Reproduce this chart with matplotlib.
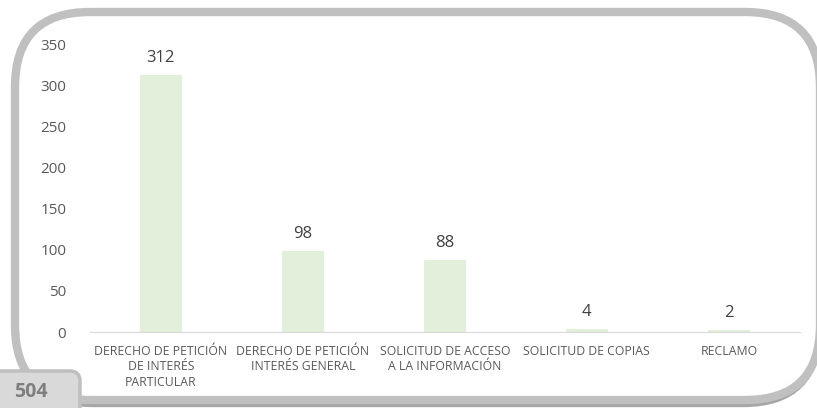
import matplotlib.pyplot as plt
from matplotlib.patches import FancyBboxPatch

# data
categorias = ["DERECHO DE PETICIÓN\nDE INTERÉS\nPARTICULAR",
              "DERECHO DE PETICIÓN\nINTERÉS GENERAL",
              "SOLICITUD DE ACCESO\nA LA INFORMACIÓN",
              "SOLICITUD DE COPIAS",
              "RECLAMO"]
valores = [312, 98, 88, 4, 2]
total = "504"

plt.rcParams['font.family'] = ['Open Sans', 'DejaVu Sans']

fig = plt.figure(figsize=(8.17, 4.08), dpi=100)

# frame drawn in pixel-like coords
bg = fig.add_axes([0, 0, 1, 1], zorder=0)
bg.set_xlim(0, 817)
bg.set_ylim(408, 0)
bg.axis('off')

shadow = FancyBboxPatch((18, 15), 800, 388, boxstyle="round,pad=0,rounding_size=75",
                        fc='none', ec='#a6a6a6', lw=6)
bg.add_patch(shadow)
frame = FancyBboxPatch((15, 12), 805, 388, boxstyle="round,pad=0,rounding_size=75",
                       fc='white', ec='#c0c0c0', lw=6)
bg.add_patch(frame)

tab = FancyBboxPatch((-10, 371), 90, 50, boxstyle="round,pad=0,rounding_size=10",
                     fc='#d9d9d9', ec='#bfbfbf', lw=2.5)
bg.add_patch(tab)
bg.text(31, 392, total, ha='center', va='center', fontsize=14, fontweight='bold',
        color='#7f7f7f')

ax = fig.add_axes([0.110, 0.186, 0.869, 0.706], zorder=1)
ax.patch.set_alpha(0)

x = range(len(valores))
bars = ax.bar(x, valores, width=0.3, color='#e2efda')
for i, v in enumerate(valores):
    ax.text(i, v + 11, str(v), ha='center', va='bottom', fontsize=12, color='#404040')

ax.set_ylim(0, 350)
ax.set_xlim(-0.5, len(valores) - 0.5)
ax.set_yticks(range(0, 351, 50))
ax.tick_params(axis='y', length=0, labelsize=11, labelcolor='#595959', pad=17)
ax.set_xticks(list(x))
ax.set_xticklabels(categorias, fontsize=8.8, color='#595959', linespacing=1.25)
ax.tick_params(axis='x', length=0, pad=9)

for s in ['top', 'right', 'left']:
    ax.spines[s].set_visible(False)
ax.spines['bottom'].set_color('#d9d9d9')

fig.savefig('out.png', dpi=100)
